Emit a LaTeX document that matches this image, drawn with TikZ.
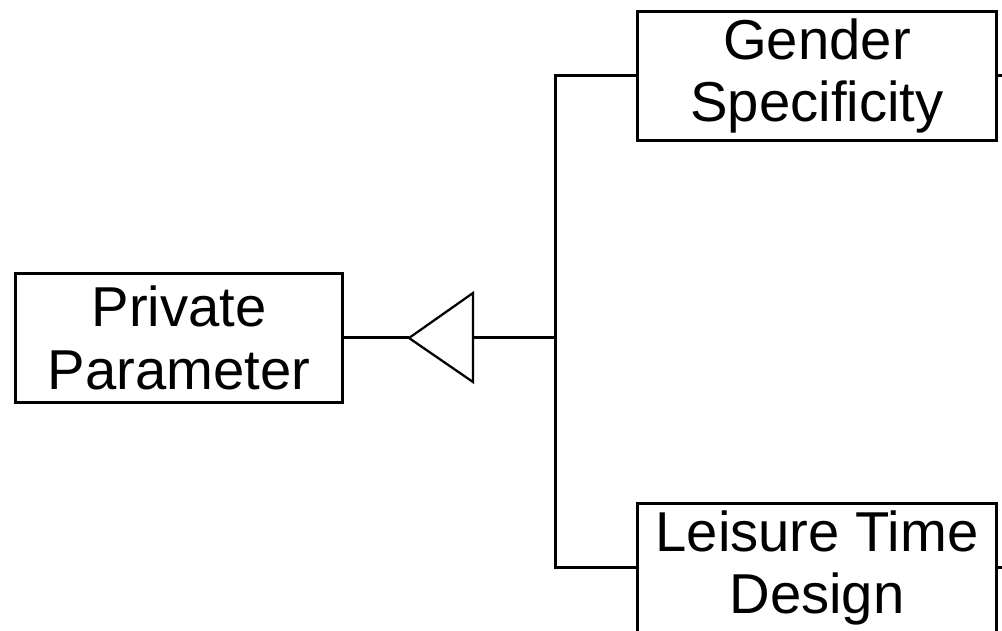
\documentclass[tikz,border=0pt]{standalone}
\usepackage{fontspec}
\setmainfont{Liberation Sans}
\usetikzlibrary{positioning}

\begin{document}
\begin{tikzpicture}[
    x=0.02cm,y=-0.02cm,
    line width=0.06cm,
    param/.style={draw,rectangle,align=center,inner sep=0pt,
        minimum height=2.6cm,
        font={\fontsize{32}{35.5}\selectfont}},
    ]

    % Page frame
    \useasboundingbox (0,0) rectangle (1002,631);

    \node[param,minimum width=6.56cm] (private) at (179,338) {Private\\Parameter};
    \node[param,minimum width=7.2cm] (gender) at (817,76) {Gender\\Specificity};
    \node[param,minimum width=7.2cm] (leisure) at (817,568) {Leisure Time\\Design};

    \coordinate (tip) at (409,338);
    \coordinate (base) at (473,338);
    \coordinate (fork) at (555,338);

    % Generalisation triangle
    \draw (private.east) -- (tip);
    \draw[line width=0.045cm,line join=miter] (tip) -- (base |- 0,293) -- (base |- 0,382) -- cycle;
    \draw (base) -- (fork);

    \draw (gender.west) -| (fork);
    \draw (leisure.west) -| (fork);

    \draw (gender.east) -- ++(12,0);
    \draw (leisure.east) -- ++(12,0);
\end{tikzpicture}
\end{document}
